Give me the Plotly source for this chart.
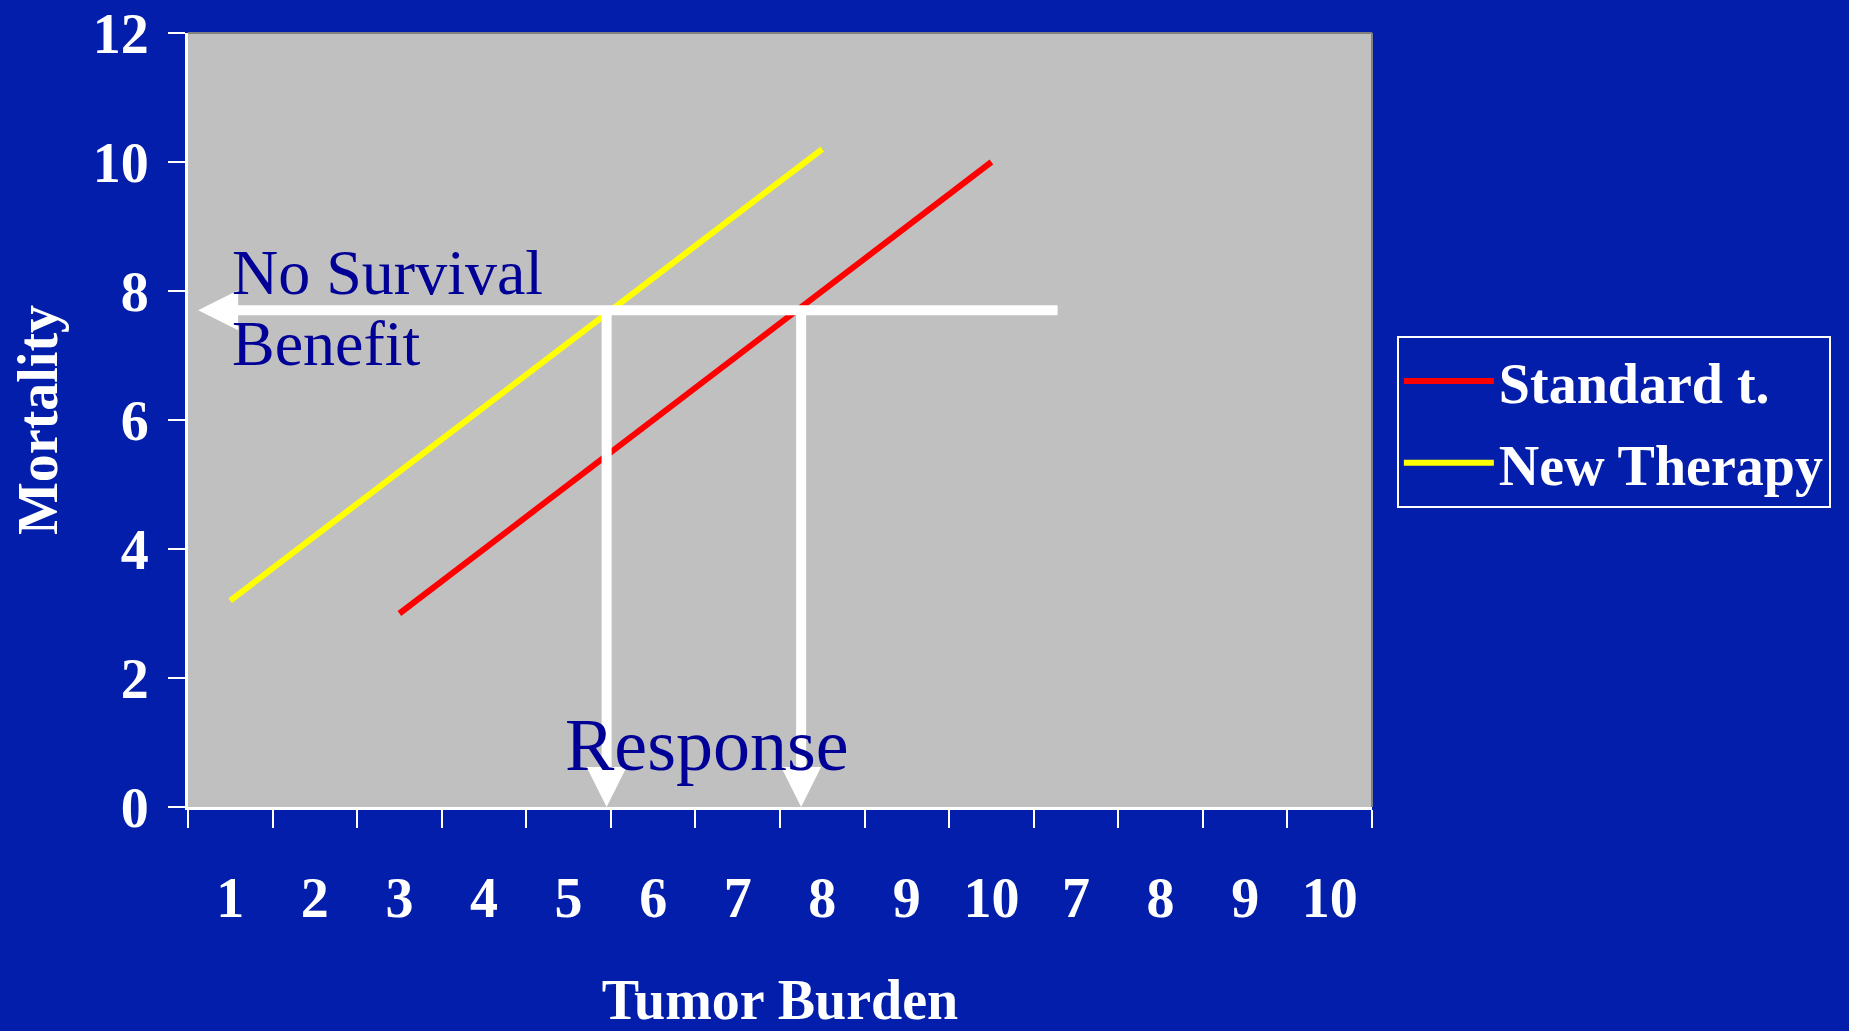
import plotly.graph_objects as go

BG = '#031EAA'
PLOT_BG = '#C0C0C0'
NAVY = '#000096'
SERIF = 'Liberation Serif, Times New Roman, serif'

# category positions and their printed labels
x_pos = list(range(1, 15))
x_labels = ['1', '2', '3', '4', '5', '6', '7', '8', '9', '10', '7', '8', '9', '10']
y_ticks = [0, 2, 4, 6, 8, 10, 12]

standard_x = [3, 4, 5, 6, 7, 8, 9, 10]
standard_y = [3.0, 4.0, 5.0, 6.0, 7.0, 8.0, 9.0, 10.0]

new_x = [1, 2, 3, 4, 5, 6, 7, 8]
new_y = [3.2, 4.2, 5.2, 6.2, 7.2, 8.2, 9.2, 10.2]

# arrows: level of "no survival benefit" and where each line crosses it
benefit_level = 7.7
cross_new = 5.45
cross_standard = 7.75

fig = go.Figure()
fig.add_trace(go.Scatter(x=standard_x, y=standard_y, mode='lines', name='Standard t.',
                         legendgroup='a', line=dict(color='#FF0000', width=6)))
fig.add_trace(go.Scatter(x=new_x, y=new_y, mode='lines', name='New Therapy',
                         legendgroup='b', line=dict(color='#FFFF00', width=6)))

arrow = dict(showarrow=True, text='', axref='x', ayref='y', xref='x', yref='y',
             arrowcolor='white', arrowwidth=10, arrowhead=2, arrowsize=0.8)
fig.add_annotation(x=0.62, y=benefit_level, ax=10.8, ay=benefit_level, **arrow)
fig.add_annotation(x=cross_new, y=0, ax=cross_new, ay=benefit_level, **arrow)
fig.add_annotation(x=cross_standard, y=0, ax=cross_standard, ay=benefit_level, **arrow)

note_font = dict(family=SERIF, size=64, color=NAVY, weight='normal')
fig.add_annotation(x=1.0, y=8.28, xref='x', yref='y', showarrow=False,
                   text='No Survival', xanchor='left', yanchor='middle', font=note_font)
fig.add_annotation(x=1.0, y=7.18, xref='x', yref='y', showarrow=False,
                   text='Benefit', xanchor='left', yanchor='middle', font=note_font)
fig.add_annotation(x=6.64, y=0.96, xref='x', yref='y', showarrow=False,
                   text='Response', xanchor='center', yanchor='middle',
                   font=dict(family=SERIF, size=74, color=NAVY, weight='normal'))

# gray frame on top and right of plot area
fig.add_shape(type='line', xref='paper', yref='paper', x0=0, x1=1, y0=1, y1=1,
              line=dict(color='#808080', width=2))
fig.add_shape(type='line', xref='paper', yref='paper', x0=1, x1=1, y0=0, y1=1,
              line=dict(color='#808080', width=2))

bold = dict(family=SERIF, size=56, color='white', weight='bold')

fig.update_layout(
    width=1849, height=1031,
    margin=dict(l=188, r=477, t=33, b=224),
    paper_bgcolor=BG, plot_bgcolor=PLOT_BG,
    font=bold,
    showlegend=True,
    legend=dict(x=1.021, y=0.6085, xanchor='left', yanchor='top',
                bgcolor=BG, bordercolor='white', borderwidth=2,
                itemwidth=90, tracegroupgap=6, traceorder='grouped',
                font=dict(family=SERIF, size=56, color='white', weight='bold')),
    xaxis=dict(range=[0.5, 14.5], tickvals=x_pos, ticktext=x_labels, ticks='',
               ticklabelstandoff=40, tickfont=bold, showgrid=False, zeroline=False,
               showline=True, linecolor='white', linewidth=3, automargin=False,
               minor=dict(tick0=0.5, dtick=1, ticks='outside', ticklen=18, tickwidth=2,
                          tickcolor='white', showgrid=False),
               title=dict(text='Tumor Burden', font=bold, standoff=60)),
    yaxis=dict(range=[0, 12], tickvals=y_ticks, ticks='outside', ticklen=17, tickwidth=2,
               tickcolor='white', tickfont=bold, showgrid=False, zeroline=False,
               showline=True, linecolor='white', linewidth=3, automargin=False,
               ticklabelstandoff=8,
               title=dict(text='Mortality', font=bold, standoff=18)),
)

fig.write_html("out.html", config=dict(displayModeBar=False),
               post_script="document.body.style.margin='0';")
